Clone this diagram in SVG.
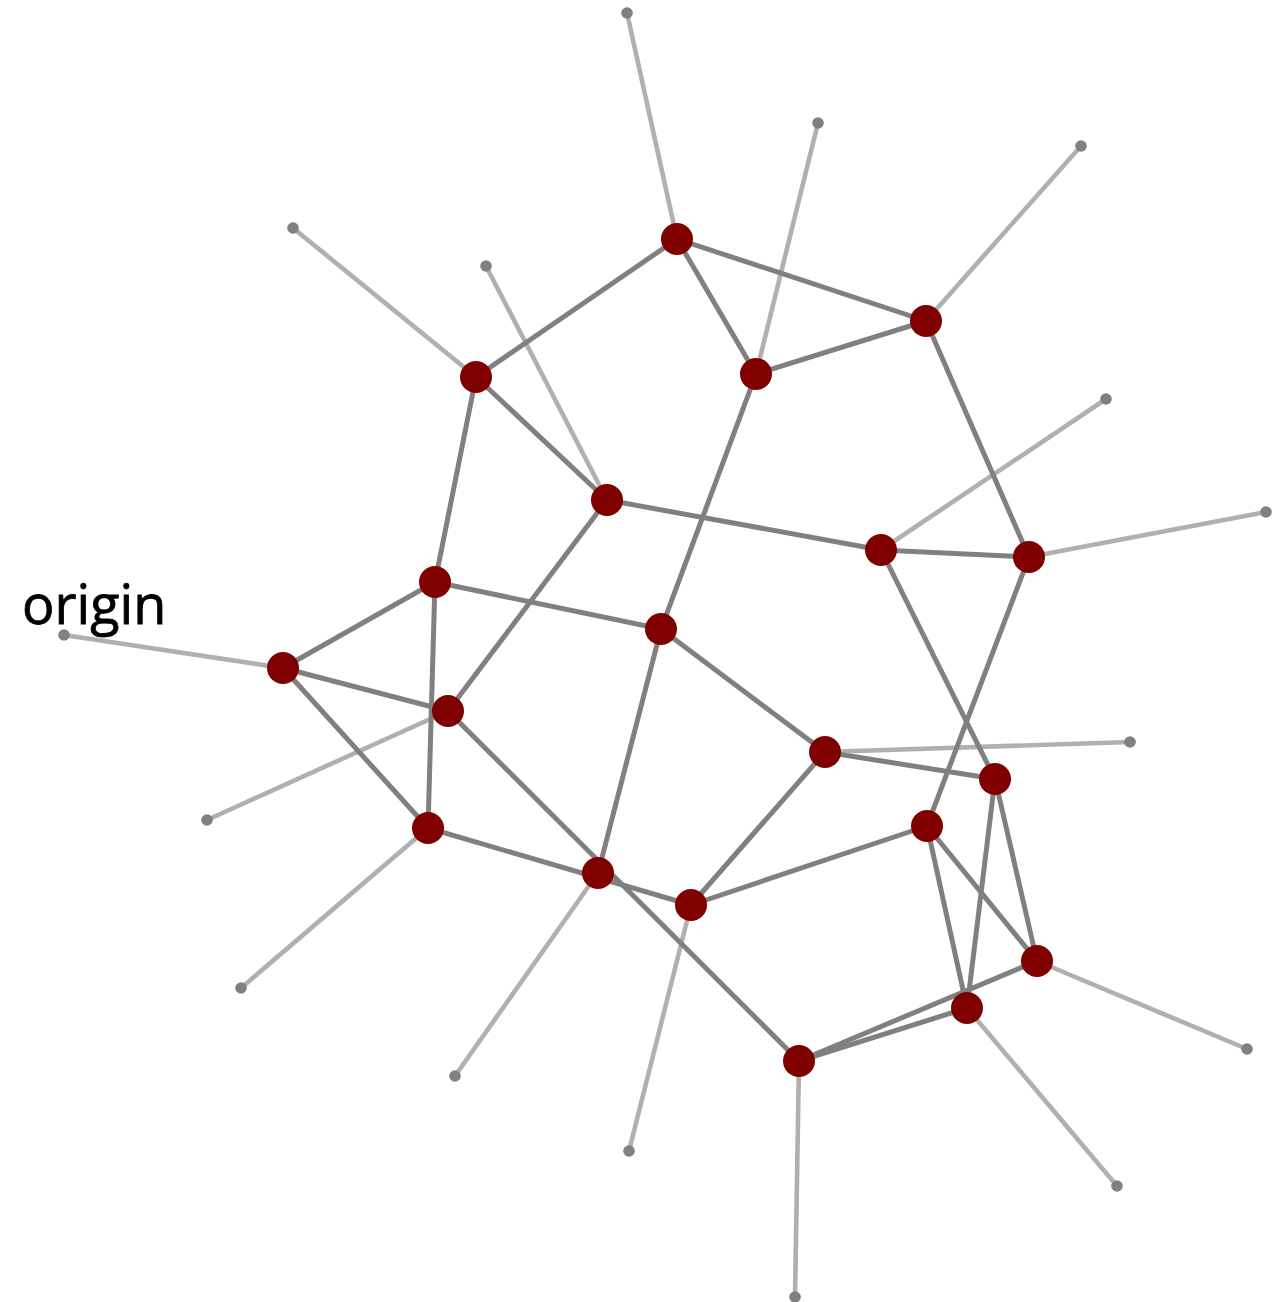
<svg xmlns="http://www.w3.org/2000/svg" width="1284" height="1302" viewBox="0 0 1284 1302">
<style>
.leaf{stroke:#b0b0b0;stroke-width:4.6;fill:none}
.edge{stroke:#808080;stroke-width:5;fill:none}
.end{fill:#808080}
.node{fill:#800000}
.lbl{font-family:"Open Sans","Liberation Sans",sans-serif;font-size:54px;fill:#000;stroke:#000;stroke-width:0.8}
</style>
<rect width="1284" height="1302" fill="#fff"/>
<g id="leaf-connectors">
<line class="leaf" x1="677" y1="239" x2="627" y2="13"/>
<line class="leaf" x1="756" y1="374" x2="818" y2="123"/>
<line class="leaf" x1="926" y1="321" x2="1081" y2="146"/>
<line class="leaf" x1="476" y1="377" x2="293" y2="228"/>
<line class="leaf" x1="607" y1="500" x2="486" y2="266"/>
<line class="leaf" x1="881" y1="550" x2="1106" y2="399"/>
<line class="leaf" x1="1029" y1="557" x2="1266" y2="512"/>
<line class="leaf" x1="283" y1="668" x2="64" y2="635"/>
<line class="leaf" x1="825" y1="752" x2="1130" y2="742"/>
<line class="leaf" x1="448" y1="711" x2="207" y2="820"/>
<line class="leaf" x1="428" y1="828" x2="241" y2="988"/>
<line class="leaf" x1="598" y1="873" x2="455" y2="1076"/>
<line class="leaf" x1="691" y1="905" x2="629" y2="1151"/>
<line class="leaf" x1="1037" y1="961" x2="1247" y2="1049"/>
<line class="leaf" x1="967" y1="1008" x2="1117" y2="1186"/>
<line class="leaf" x1="799" y1="1061" x2="795" y2="1297"/>
</g>
<g id="connectors">
<line class="edge" x1="677" y1="239" x2="476" y2="377"/>
<line class="edge" x1="677" y1="239" x2="926" y2="321"/>
<line class="edge" x1="677" y1="239" x2="756" y2="374"/>
<line class="edge" x1="756" y1="374" x2="926" y2="321"/>
<line class="edge" x1="756" y1="374" x2="661" y2="629"/>
<line class="edge" x1="926" y1="321" x2="1029" y2="557"/>
<line class="edge" x1="476" y1="377" x2="607" y2="500"/>
<line class="edge" x1="476" y1="377" x2="435" y2="582"/>
<line class="edge" x1="607" y1="500" x2="881" y2="550"/>
<line class="edge" x1="607" y1="500" x2="448" y2="711"/>
<line class="edge" x1="881" y1="550" x2="1029" y2="557"/>
<line class="edge" x1="881" y1="550" x2="995" y2="779"/>
<line class="edge" x1="1029" y1="557" x2="927" y2="826"/>
<line class="edge" x1="435" y1="582" x2="283" y2="668"/>
<line class="edge" x1="435" y1="582" x2="661" y2="629"/>
<line class="edge" x1="435" y1="582" x2="428" y2="828"/>
<line class="edge" x1="661" y1="629" x2="825" y2="752"/>
<line class="edge" x1="661" y1="629" x2="598" y2="873"/>
<line class="edge" x1="283" y1="668" x2="448" y2="711"/>
<line class="edge" x1="283" y1="668" x2="428" y2="828"/>
<line class="edge" x1="448" y1="711" x2="799" y2="1061"/>
<line class="edge" x1="428" y1="828" x2="691" y2="905"/>
<line class="edge" x1="825" y1="752" x2="995" y2="779"/>
<line class="edge" x1="825" y1="752" x2="691" y2="905"/>
<line class="edge" x1="927" y1="826" x2="691" y2="905"/>
<line class="edge" x1="927" y1="826" x2="1037" y2="961"/>
<line class="edge" x1="927" y1="826" x2="967" y2="1008"/>
<line class="edge" x1="995" y1="779" x2="1037" y2="961"/>
<line class="edge" x1="995" y1="779" x2="967" y2="1008"/>
<line class="edge" x1="799" y1="1061" x2="1037" y2="961"/>
<line class="edge" x1="799" y1="1061" x2="967" y2="1008"/>
</g>
<g id="leaf-ends">
<circle class="end" cx="627" cy="13" r="5.8"/>
<circle class="end" cx="818" cy="123" r="5.8"/>
<circle class="end" cx="1081" cy="146" r="5.8"/>
<circle class="end" cx="293" cy="228" r="5.8"/>
<circle class="end" cx="486" cy="266" r="5.8"/>
<circle class="end" cx="1106" cy="399" r="5.8"/>
<circle class="end" cx="1266" cy="512" r="5.8"/>
<circle class="end" cx="64" cy="635" r="5.8"/>
<circle class="end" cx="1130" cy="742" r="5.8"/>
<circle class="end" cx="207" cy="820" r="5.8"/>
<circle class="end" cx="241" cy="988" r="5.8"/>
<circle class="end" cx="455" cy="1076" r="5.8"/>
<circle class="end" cx="629" cy="1151" r="5.8"/>
<circle class="end" cx="1247" cy="1049" r="5.8"/>
<circle class="end" cx="1117" cy="1186" r="5.8"/>
<circle class="end" cx="795" cy="1297" r="5.8"/>
</g>
<g id="nA"><circle class="node" cx="677" cy="239" r="16"/></g>
<g id="nB"><circle class="node" cx="926" cy="321" r="16"/></g>
<g id="nC"><circle class="node" cx="756" cy="374" r="16"/></g>
<g id="nD"><circle class="node" cx="476" cy="377" r="16"/></g>
<g id="nE"><circle class="node" cx="607" cy="500" r="16"/></g>
<g id="nF"><circle class="node" cx="881" cy="550" r="16"/></g>
<g id="nG"><circle class="node" cx="1029" cy="557" r="16"/></g>
<g id="nH"><circle class="node" cx="435" cy="582" r="16"/></g>
<g id="nI"><circle class="node" cx="661" cy="629" r="16"/></g>
<g id="nJ"><circle class="node" cx="283" cy="668" r="16"/></g>
<g id="nK"><circle class="node" cx="448" cy="711" r="16"/></g>
<g id="nL"><circle class="node" cx="825" cy="752" r="16"/></g>
<g id="nM"><circle class="node" cx="995" cy="779" r="16"/></g>
<g id="nN"><circle class="node" cx="927" cy="826" r="16"/></g>
<g id="nO"><circle class="node" cx="428" cy="828" r="16"/></g>
<g id="nP"><circle class="node" cx="598" cy="873" r="16"/></g>
<g id="nQ"><circle class="node" cx="691" cy="905" r="16"/></g>
<g id="nR"><circle class="node" cx="1037" cy="961" r="16"/></g>
<g id="nS"><circle class="node" cx="967" cy="1008" r="16"/></g>
<g id="nT"><circle class="node" cx="799" cy="1061" r="16"/></g>
<g id="label"><text class="lbl" x="22" y="624">origin</text></g>
</svg>
